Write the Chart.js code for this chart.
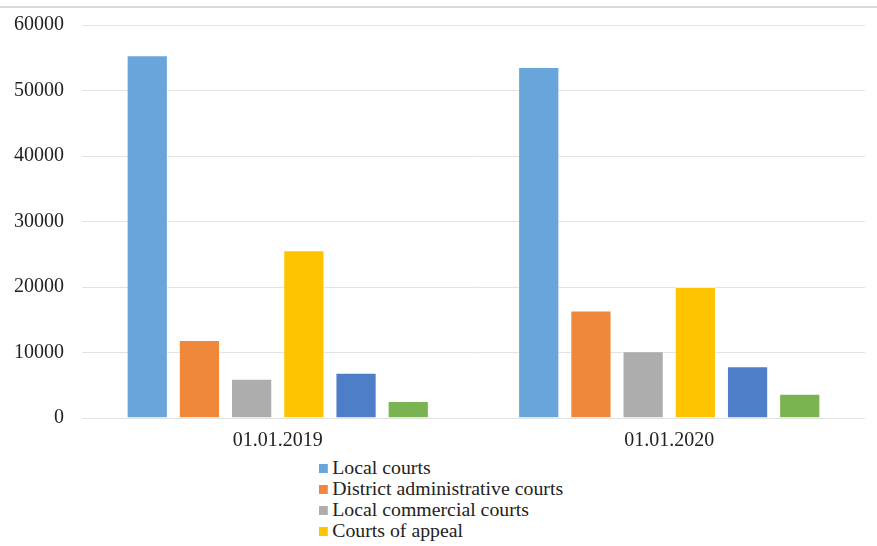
<!DOCTYPE html>
<html>
<head>
<meta charset="utf-8">
<script src="https://cdn.jsdelivr.net/npm/chart.js@4/dist/chart.umd.min.js"></script>
<style>
    html, body { margin: 0; padding: 0; background: #fff; }
    #wrap { position: relative; width: 877px; height: 546px; }
    #courtsChart { position: absolute; left: 0; top: 0; }
    #legend {
        position: absolute; left: 319px; top: 458px;
        font-family: 'Liberation Serif', 'Times New Roman', serif;
        font-size: 18px; color: #222;
        transform: scaleX(1.1); transform-origin: left top;
    }
    #legend div { height: 21px; line-height: 21px; white-space: nowrap; }
    #legend span.box {
        display: inline-block; width: 8px; height: 9px;
        margin-right: 4px; vertical-align: 1px;
    }
</style>
</head>
<body>
<div id="wrap">
    <canvas id="courtsChart" width="877" height="456"></canvas>
    <div id="legend"></div>
</div>
<script>
const categories = ['01.01.2019', '01.01.2020'];
const yTicks = [0, 10000, 20000, 30000, 40000, 50000, 60000];

const localCourts = [55400, 53600];
const districtAdminCourts = [11900, 16400];
const localCommercialCourts = [6000, 10200];
const appealCourts = [25600, 20000];
const adminAppealCourts = [6900, 7900];
const commercialAppealCourts = [2600, 3700];

const seriesLabels = ['Local courts', 'District administrative courts', 'Local commercial courts',
    'Courts of appeal', 'Administrative courts of appeal', 'Commercial courts of appeal'];
const seriesColors = ['#67a5db', '#f0883c', '#adadad', '#ffc400', '#4f7ec9', '#7bb351'];
const seriesData = [localCourts, districtAdminCourts, localCommercialCourts,
    appealCourts, adminAppealCourts, commercialAppealCourts];

// only the first four entries fit in the legend box
const legendCount = 4;

const serif = "'Liberation Serif', 'Times New Roman', serif";

// thin grey rule along the top of the figure
const topRule = {
    id: 'topRule',
    beforeDraw(chart) {
        const c = chart.ctx;
        c.save();
        c.strokeStyle = '#d9d9d9';
        c.lineWidth = 2;
        c.beginPath();
        c.moveTo(0, 7);
        c.lineTo(chart.width, 7);
        c.stroke();
        c.restore();
    }
};

document.addEventListener('DOMContentLoaded', function() {
    const ctx = document.getElementById('courtsChart').getContext('2d');

    new Chart(ctx, {
        type: 'bar',
        data: {
            labels: categories,
            datasets: seriesData.map((values, i) => ({
                label: seriesLabels[i],
                data: values,
                backgroundColor: seriesColors[i],
                borderColor: 'rgba(255, 255, 255, 0.45)',
                borderWidth: 1,
                categoryPercentage: 0.8,
                barPercentage: 0.79
            }))
        },
        options: {
            responsive: false,
            animation: false,
            layout: { padding: { top: 25, right: 12, left: 0, bottom: 0 } },
            plugins: {
                legend: { display: false },
                tooltip: { enabled: false }
            },
            scales: {
                x: {
                    grid: { display: false, drawTicks: false },
                    border: { display: false },
                    ticks: { color: '#222', font: { family: serif, size: 20 }, padding: 11 },
                    afterFit: (s) => { s.height = 38; }
                },
                y: {
                    min: 0,
                    max: 60000,
                    afterBuildTicks: (s) => { s.ticks = yTicks.map(v => ({ value: v })); },
                    grid: { color: '#e2e2e2', lineWidth: 1, drawTicks: false },
                    border: { display: false },
                    ticks: {
                        color: '#222',
                        font: { family: serif, size: 20 },
                        padding: 18,
                        callback: (v) => String(v)
                    },
                    afterFit: (s) => {
                        s.width = 82;
                        // let layout.padding alone set the plot's top edge
                        s.paddingTop = 0;
                        s.paddingBottom = 0;
                    }
                }
            }
        },
        plugins: [topRule]
    });

    const legend = document.getElementById('legend');
    for (let i = 0; i < legendCount; i++) {
        const row = document.createElement('div');
        const box = document.createElement('span');
        box.className = 'box';
        box.style.background = seriesColors[i];
        row.appendChild(box);
        row.appendChild(document.createTextNode(seriesLabels[i]));
        legend.appendChild(row);
    }
});
</script>
</body>
</html>
